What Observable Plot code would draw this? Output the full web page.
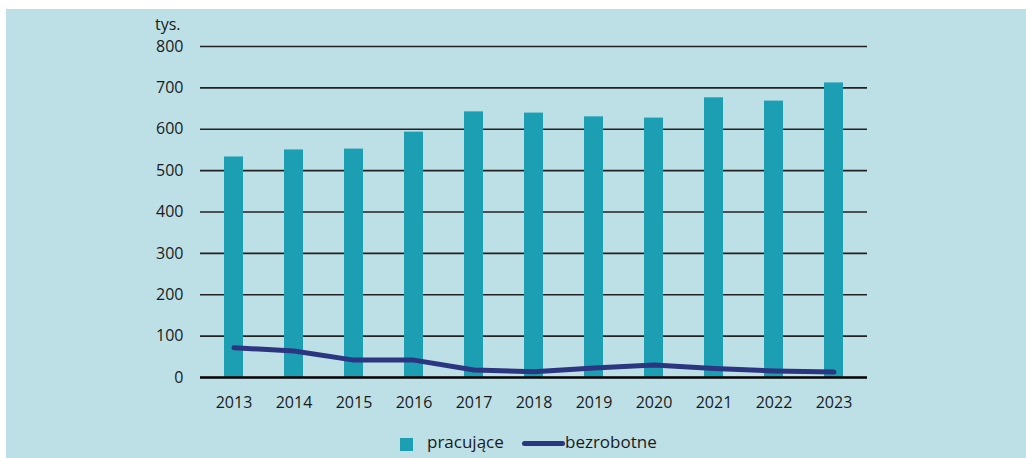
<!DOCTYPE html>
<html>
<head>
<meta charset="utf-8">
<script src="https://cdn.jsdelivr.net/npm/d3@7"></script>
<script src="https://cdn.jsdelivr.net/npm/@observablehq/plot@0.6"></script>
<style>
  html, body { margin: 0; padding: 0; background: #ffffff; }
  body { width: 1026px; height: 458px; position: relative; overflow: hidden; font-family: "Open Sans", sans-serif; }
  #panel { position: absolute; left: 6px; top: 9px; width: 1020px; height: 449px; background: #bde0e7; }
  #unit { position: absolute; left: 149px; top: 4px; font-size: 16px; color: #1a1a1a; }
  #chart { position: absolute; left: 0; top: 0; }
  #legend { position: absolute; left: 0; top: 0; width: 1020px; height: 449px; font-size: 17px; color: #1a1a1a; }
  #legend span { position: absolute; line-height: 20px; }
  .sw { left: 394px; top: 429px; width: 13px; height: 13px; background: #1c9fb3; }
  .t1 { left: 421px; top: 423px; }
  .ln { left: 516px; top: 432px; width: 43px; height: 5px !important; line-height: 5px !important; border-radius: 3px; background: #2b3580; }
  .t2 { left: 559px; top: 423px; }
</style>
</head>
<body>
<div id="panel">
  <div id="chart"></div>
  <div id="unit">tys.</div>
  <div id="legend"><span class="sw"></span><span class="t1">pracujące</span><span class="ln"></span><span class="t2">bezrobotne</span></div>
</div>
<script>
const years = ["2013","2014","2015","2016","2017","2018","2019","2020","2021","2022","2023"];
const pracujace = [533, 550, 552, 593, 642, 639, 630, 627, 676, 668, 712];
const bezrobotne = [72, 64, 42, 42, 18, 14, 23, 30, 22, 16, 13];
const yTicks = [0, 100, 200, 300, 400, 500, 600, 700, 800];

const data = years.map((y, i) => ({year: y, pracujace: pracujace[i], bezrobotne: bezrobotne[i]}));

const chart = Plot.plot({
  width: 1020,
  height: 415,
  marginLeft: 194,
  marginRight: 159,
  marginTop: 37,
  marginBottom: 47,
  style: { background: "transparent", fontFamily: "Open Sans, sans-serif", fontSize: "16px", color: "#1a1a1a" },
  x: { domain: years, paddingInner: 0.69, paddingOuter: 0.345, label: null },
  y: { domain: [0, 800], label: null },
  marks: [
    Plot.ruleY(yTicks.filter(d => d > 0), { stroke: "#222", strokeWidth: 1.6 }),
    Plot.barY(data, { x: "year", y: "pracujace", fill: "#1c9fb3" }),
    Plot.ruleY([0], { stroke: "#000", strokeWidth: 2.5 }),
    Plot.line(data, { x: "year", y: "bezrobotne", stroke: "#2b3580", strokeWidth: 5, strokeLinecap: "round", strokeLinejoin: "round" }),
    Plot.axisY({ ticks: yTicks, tickSize: 0, tickPadding: 17, label: null, fontSize: 16 }),
    Plot.axisX({ tickSize: 0, tickPadding: 19, label: null, fontSize: 16 })
  ]
});
document.getElementById("chart").appendChild(chart);
</script>
</body>
</html>
